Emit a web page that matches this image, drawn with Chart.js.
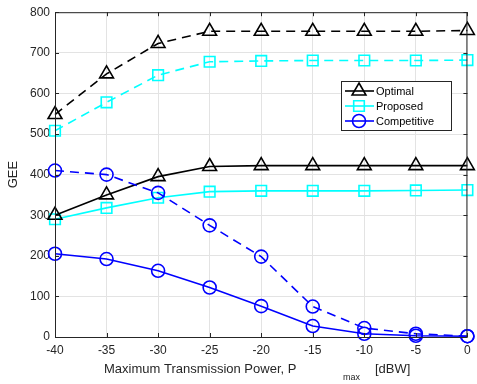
<!DOCTYPE html>
<html>
<head>
<meta charset="utf-8">
<script src="https://cdn.jsdelivr.net/npm/chart.js@4.4.0/dist/chart.umd.min.js"></script>
<style>
    html, body { margin: 0; padding: 0; background: #fff; }
    #wrap { width: 477px; height: 384px; position: relative; }
</style>
</head>
<body>
<div id="wrap"><canvas id="geeChart" width="477" height="384"></canvas></div>
<script>
// --- data ---
const powerDbw = [-40, -35, -30, -25, -20, -15, -10, -5, 0];
const yTicks = [0, 100, 200, 300, 400, 500, 600, 700, 800];

// dashed curves (upper set)
const optimalDashed = [548, 648, 723, 753, 753, 753, 753, 753, 755];
const proposedDashed = [508, 578, 645, 678, 680, 681, 681, 681, 682];
const competitiveDashed = [410, 400, 355, 275, 198, 75, 22, 8, 2];

// solid curves (lower set)
const optimalSolid = [300, 350, 395, 420, 422, 422, 422, 422, 422];
const proposedSolid = [290, 318, 343, 358, 360, 360, 360, 361, 362];
const competitiveSolid = [205, 192, 163, 122, 76, 27, 8, 3, 2];

const legendNames = ['Optimal', 'Proposed', 'Competitive'];

const FONT = '"Liberation Sans", Arial, sans-serif';
const TEXT_COLOR = '#262626';

function toPoints(arr) {
    return powerDbw.map((x, i) => ({ x: x, y: arr[i] }));
}

function series(label, arr, color, shape, radius, dashed) {
    return {
        label: label,
        data: toPoints(arr),
        borderColor: color,
        borderWidth: 1.6,
        borderDash: dashed ? [9, 6] : [],
        pointStyle: shape,
        pointRadius: radius,
        pointBorderWidth: 1.6,
        pointBorderColor: color,
        pointBackgroundColor: 'rgba(0,0,0,0)',
        tension: 0,
        fill: false
    };
}

const styles = [
    { color: '#000000', shape: 'triangle', r: 8 },
    { color: '#00ffff', shape: 'rect', r: 7.5 },
    { color: '#0000ff', shape: 'circle', r: 6.5 }
];

// --- plugin: box, inner ticks, axis titles, legend ---
const frameAndLegend = {
    id: 'frameAndLegend',
    afterDraw(chart) {
        const ctx = chart.ctx;
        const a = chart.chartArea;
        const xs = chart.scales.x;
        const ys = chart.scales.y;

        ctx.save();
        // box
        ctx.strokeStyle = TEXT_COLOR;
        ctx.lineWidth = 1;
        ctx.strokeRect(a.left + 0.5, a.top + 0.5, a.right - a.left - 1, a.bottom - a.top);

        // inner ticks
        ctx.beginPath();
        powerDbw.forEach(v => {
            const px = Math.round(xs.getPixelForValue(v)) + 0.5;
            ctx.moveTo(px, a.bottom); ctx.lineTo(px, a.bottom - 4);
            ctx.moveTo(px, a.top); ctx.lineTo(px, a.top + 4);
        });
        yTicks.forEach(v => {
            const py = Math.round(ys.getPixelForValue(v)) + 0.5;
            ctx.moveTo(a.left, py); ctx.lineTo(a.left + 4, py);
            ctx.moveTo(a.right, py); ctx.lineTo(a.right - 4, py);
        });
        ctx.stroke();

        // x axis title with subscript
        ctx.fillStyle = TEXT_COLOR;
        ctx.textBaseline = 'alphabetic';
        ctx.textAlign = 'left';
        ctx.font = '13px ' + FONT;
        ctx.fillText('Maximum Transmission Power, P', 104, 373);
        ctx.font = '9px ' + FONT;
        ctx.fillText('max', 343, 380);
        ctx.font = '13px ' + FONT;
        ctx.fillText('[dBW]', 375, 373);

        // y axis title
        ctx.save();
        ctx.translate(17, (a.top + a.bottom) / 2);
        ctx.rotate(-Math.PI / 2);
        ctx.textAlign = 'center';
        ctx.fillText('GEE', 0, 0);
        ctx.restore();

        // legend box
        const lx = 341, ly = 81, lw = 110, lh = 49;
        ctx.fillStyle = '#ffffff';
        ctx.fillRect(lx, ly, lw, lh);
        ctx.strokeStyle = '#262626';
        ctx.lineWidth = 1;
        ctx.strokeRect(lx + 0.5, ly + 0.5, lw, lh);

        ctx.font = '11px ' + FONT;
        ctx.textBaseline = 'middle';
        legendNames.forEach((name, i) => {
            const st = styles[i];
            const cy = ly + 10 + i * 15;
            ctx.strokeStyle = st.color;
            ctx.lineWidth = 1.6;
            ctx.setLineDash([]);
            ctx.beginPath();
            ctx.moveTo(lx + 4, cy);
            ctx.lineTo(lx + 33, cy);
            ctx.stroke();
            // hollow marker, like the plotted points
            ctx.fillStyle = 'rgba(0,0,0,0)';
            Chart.helpers.drawPoint(ctx, {
                pointStyle: st.shape,
                radius: st.r,
                borderWidth: 1.6
            }, lx + 18, cy);
            ctx.fillStyle = '#000000';
            ctx.fillText(name, lx + 35, cy + 1);
        });
        ctx.restore();
    }
};

// --- chart ---
const ctx = document.getElementById('geeChart').getContext('2d');

new Chart(ctx, {
    type: 'line',
    data: {
        datasets: [
            series('Optimal (dashed)', optimalDashed, styles[0].color, styles[0].shape, styles[0].r, true),
            series('Proposed (dashed)', proposedDashed, styles[1].color, styles[1].shape, styles[1].r, true),
            series('Competitive (dashed)', competitiveDashed, styles[2].color, styles[2].shape, styles[2].r, true),
            series(legendNames[0], optimalSolid, styles[0].color, styles[0].shape, styles[0].r, false),
            series(legendNames[1], proposedSolid, styles[1].color, styles[1].shape, styles[1].r, false),
            series(legendNames[2], competitiveSolid, styles[2].color, styles[2].shape, styles[2].r, false)
        ]
    },
    options: {
        responsive: false,
        animation: false,
        clip: false,
        layout: { padding: { top: 7, right: 7, left: 0, bottom: 0 } },
        plugins: {
            legend: { display: false },
            tooltip: { enabled: false }
        },
        scales: {
            x: {
                type: 'linear',
                min: -40,
                max: 0,
                afterFit: s => { s.height = 47; },
                afterBuildTicks: s => { s.ticks = powerDbw.map(v => ({ value: v })); },
                ticks: {
                    color: TEXT_COLOR,
                    font: { family: FONT, size: 12 },
                    padding: 6,
                    maxRotation: 0,
                    callback: v => String(v)
                },
                grid: { color: '#e3e3e3', drawTicks: false },
                border: { display: false }
            },
            y: {
                type: 'linear',
                min: 0,
                max: 800,
                afterFit: s => { s.width = 55; },
                afterBuildTicks: s => { s.ticks = yTicks.map(v => ({ value: v })); },
                ticks: {
                    color: TEXT_COLOR,
                    font: { family: FONT, size: 12 },
                    padding: 5
                },
                grid: { color: '#e3e3e3', drawTicks: false },
                border: { display: false }
            }
        }
    },
    plugins: [frameAndLegend]
});
</script>
</body>
</html>
